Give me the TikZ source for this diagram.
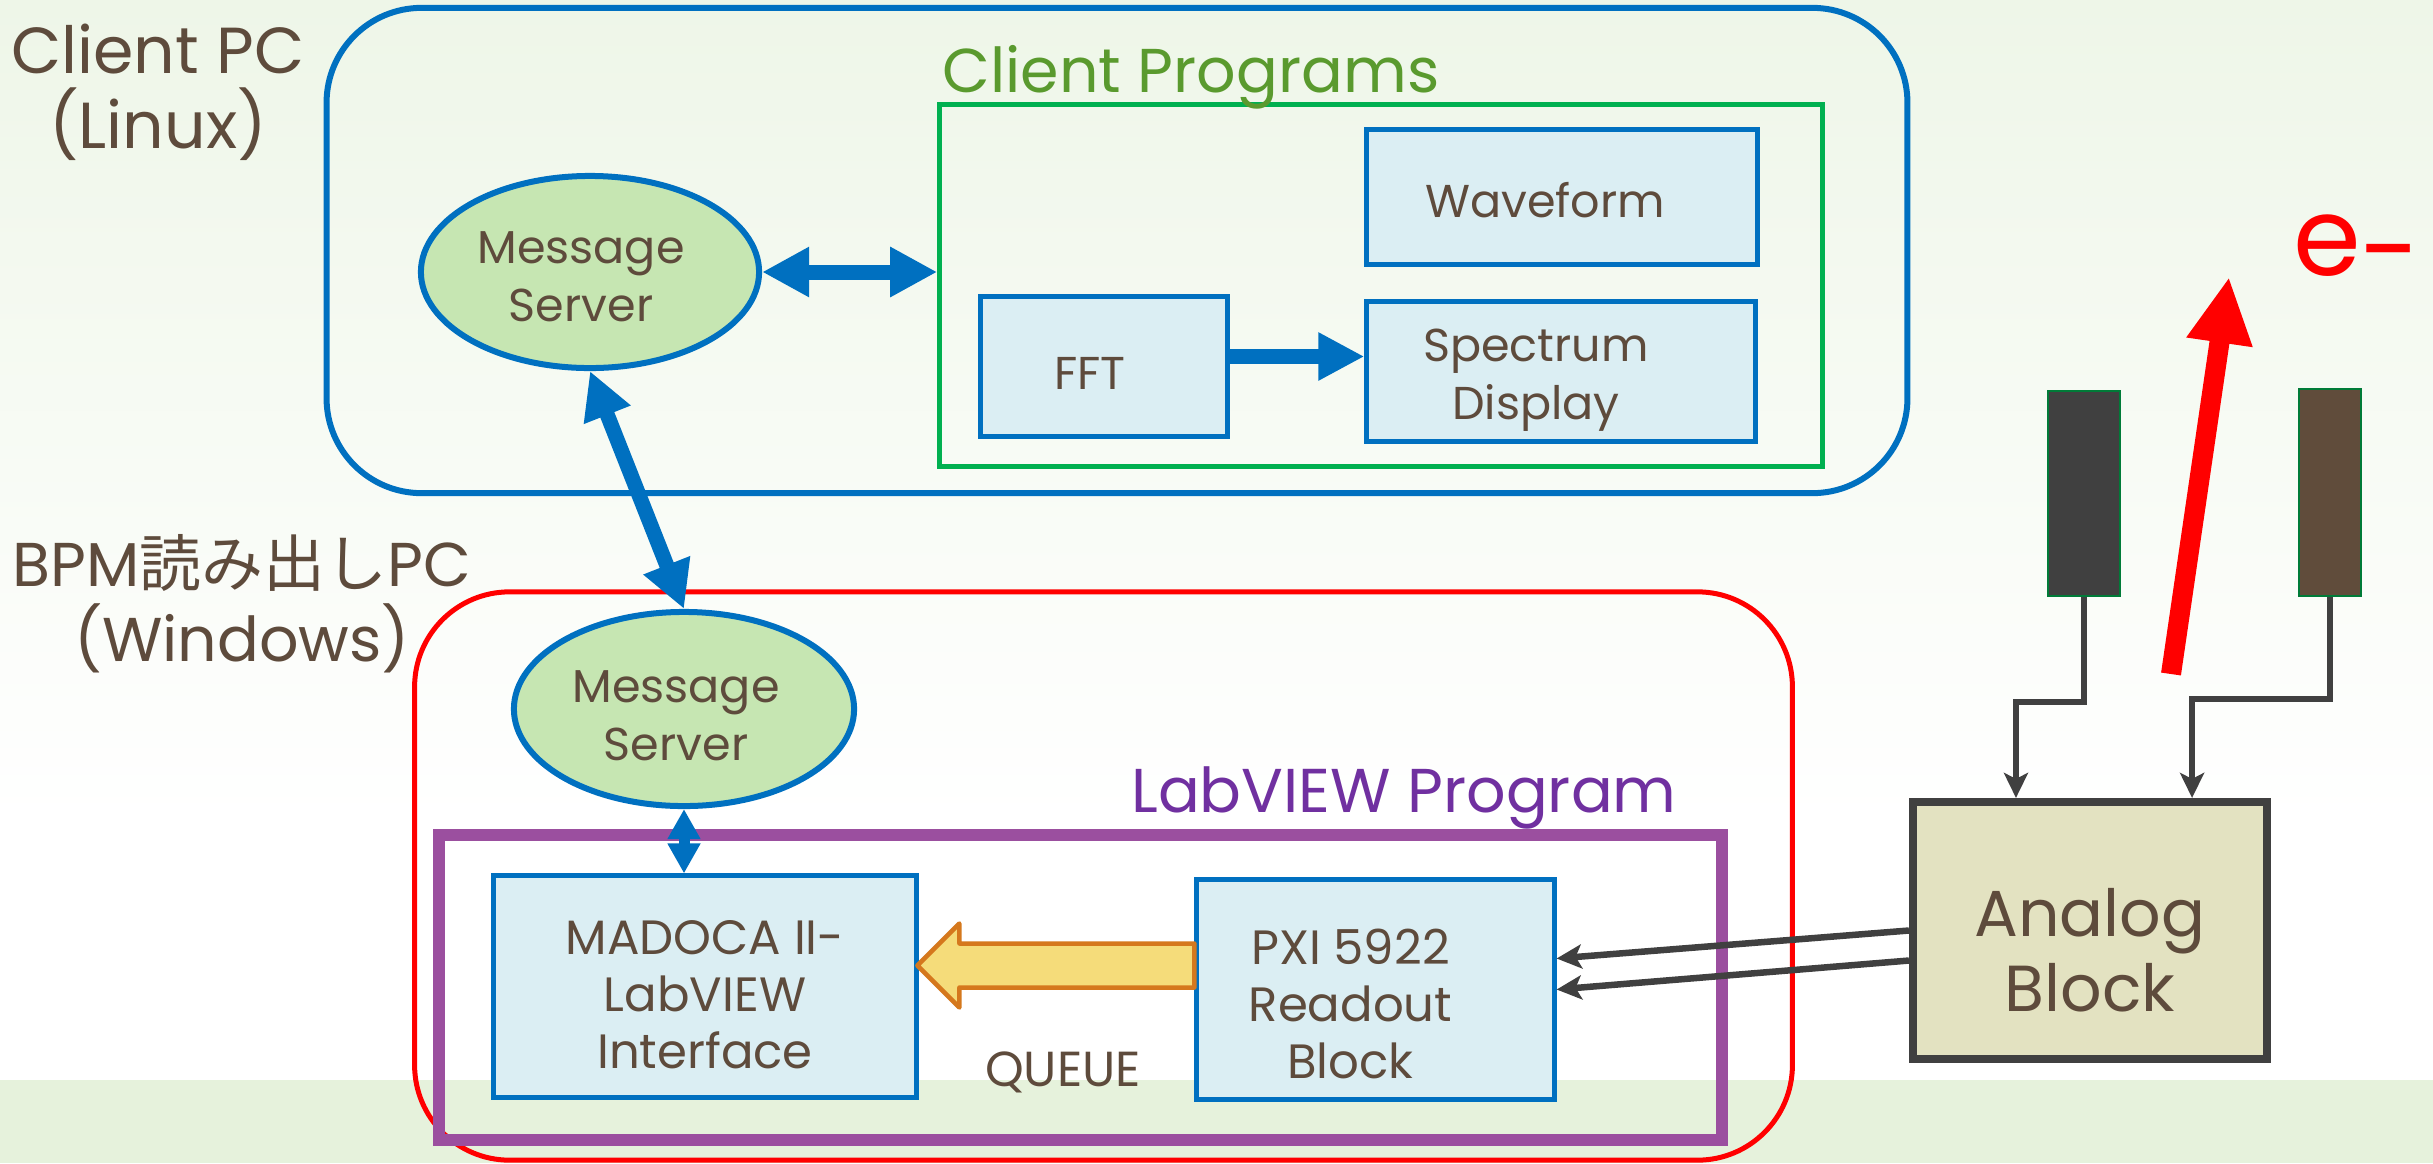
\documentclass[tikz,border=0pt]{standalone}
\usepackage{fontspec}
\setmainfont{Poppins}
\newfontfamily\jpfont{Noto Sans CJK JP}
\usepackage{xcolor}
\usetikzlibrary{arrows.meta,positioning,shapes.geometric}

\definecolor{bgtop}{HTML}{EEF6E8}
\definecolor{bgband}{HTML}{E6F2DC}
\definecolor{txtbrown}{HTML}{5E4B3C}
\definecolor{bpmblue}{HTML}{0070C0}
\definecolor{boxfill}{HTML}{DBEEF3}
\definecolor{srvfill}{HTML}{C6E6B2}
\definecolor{progline}{HTML}{00B050}
\definecolor{progtxt}{HTML}{5A9A2E}
\definecolor{lvline}{HTML}{9B4F9F}
\definecolor{lvtxt}{HTML}{7030A0}
\definecolor{anafill}{HTML}{E3E2C1}
\definecolor{darkline}{HTML}{404040}
\definecolor{pkbrown}{HTML}{604C3B}
\definecolor{qfill}{HTML}{F5DC7A}
\definecolor{qline}{HTML}{D5781D}

\newcommand\ftitle{\fontsize{18.5}{21.4}\selectfont}
\newcommand\fhead{\fontsize{17.6}{20}\selectfont}
\newcommand\fblock{\fontsize{13.7}{16.2}\selectfont}
\newcommand\fclient{\fontsize{13.1}{16.4}\selectfont}
\newcommand\fana{\fontsize{18.5}{21.3}\selectfont}
\newcommand\felec{\fontsize{31}{36}\selectfont}

\tikzset{%
	container/.style = {draw, rectangle, rounded corners=0.95cm, line width=0.06cm},
	title/.style     = {align=center, text=txtbrown, font=\ftitle},
	boxtext/.style   = {align=center, text=txtbrown, font=\fblock},
	prog/.style      = {draw=bpmblue, fill=boxfill, rectangle, line width=0.05cm},
	server/.style    = {draw=bpmblue, fill=srvfill, ellipse, line width=0.06cm},
	dlink/.style     = {draw=bpmblue, line width=0.15cm, {Triangle[length=0.47cm,width=0.47cm]}-{Triangle[length=0.47cm,width=0.47cm]}},
	slink/.style     = {draw=bpmblue, line width=0.15cm, -{Triangle[length=0.46cm,width=0.45cm]}},
	thinlink/.style  = {draw=bpmblue, line width=0.11cm, {Triangle[length=0.3cm,width=0.31cm]}-{Triangle[length=0.3cm,width=0.31cm]}},
	sig/.style       = {draw=darkline, line width=0.065cm, -{Stealth[length=0.25cm,width=0.24cm,inset=0.06cm]}},
	pickup/.style    = {draw=progline!70!black, line width=0.02cm, rectangle},
	queue/.style     = {draw=qline, fill=qfill, line width=0.045cm, line join=round},
	beam/.style      = {draw=red, line width=0.2cm, -{Triangle[length=0.66cm,width=0.62cm]}},
}

\begin{document}
\begin{tikzpicture}[x=0.01cm, y=-0.01cm]
	\useasboundingbox (0,0) rectangle (2433,1163);
	% background
	\shade[top color=bgtop, bottom color=white] (0,0) rectangle (2433,820);
	\fill[white] (0,820) rectangle (2433,1080);
	\fill[bgband] (0,1080) rectangle (2433,1163);
	
	% Client PC
	\node[container, draw=bpmblue, minimum width=15.8cm, minimum height=4.85cm] (cpc) at (1117,250.5) {};
	\node[title] (cpcT) at (158,92) {Client PC\\(Linux)};
	\node[draw=progline, line width=0.05cm, minimum width=8.82cm, minimum height=3.61cm] (progs) at (1381,285.5) {};
	\node[text=progtxt, font=\fhead] (progsT) at (1191,77) {Client Programs};
	\node[server, minimum width=3.38cm, minimum height=1.92cm,
		label={[boxtext, font=\fclient, shift={(-0.09cm,-0.05cm)}]center:{Message\\Server}}] (srvC) at (590,272) {};
	\node[prog, minimum width=3.9cm, minimum height=1.34cm,
		label={[boxtext, font=\fclient, shift={(-0.17cm,-0.035cm)}]center:Waveform}] (wave) at (1562,197) {};
	\node[prog, minimum width=2.46cm, minimum height=1.39cm,
		label={[boxtext, font=\fclient, shift={(-0.14cm,-0.07cm)}]center:FFT}] (fft) at (1104,366.5) {};
	\node[prog, minimum width=3.88cm, minimum height=1.39cm,
		label={[boxtext, font=\fclient, shift={(-0.25cm,-0.09cm)}]center:{Spectrum\\Display}}] (spec) at (1561,371.5) {};
	
	% BPM readout PC
	\node[container, draw=red, line width=0.05cm, minimum width=13.77cm, minimum height=5.68cm] (bpc) at (1103.5,876) {};
	\node[title, font=\fontsize{17.6}{21.4}\selectfont] (bpcT) at (242,604) {BPM{\jpfont 読み出し}PC\\(Windows)};
	\node[draw=lvline, line width=0.12cm, minimum width=12.83cm, minimum height=3.05cm] (lv) at (1080.5,987.5) {};
	\node[text=lvtxt, font=\fhead] (lvT) at (1404,798) {LabVIEW Program};
	\node[server, minimum width=3.4cm, minimum height=1.94cm,
		label={[boxtext, font=\fclient, shift={(-0.08cm,-0.07cm)}]center:{Message\\Server}}] (srvW) at (684,709) {};
	\node[prog, minimum width=4.22cm, minimum height=2.21cm,
		label={[boxtext, shift={(0cm,-0.08cm)}]center:{MADOCA II-\\LabVIEW\\Interface}}] (mad) at (705,986.5) {};
	\node[prog, minimum width=3.57cm, minimum height=2.19cm,
		label={[boxtext, shift={(-0.25cm,-0.14cm)}]center:{PXI 5922\\Readout\\Block}}] (pxi) at (1375.5,989.5) {};
	\node[text=txtbrown, font=\fontsize{14}{16}\selectfont] (qT) at (1063,1072) {QUEUE};
	
	% pickups and analog block
	\node[pickup, fill=darkline, minimum width=0.72cm, minimum height=2.05cm] (pkA) at (2084,493.5) {};
	\node[pickup, fill=pkbrown, minimum width=0.62cm, minimum height=2.07cm] (pkB) at (2330,492.5) {};
	\node[draw=darkline, fill=anafill, line width=0.08cm, minimum width=3.54cm, minimum height=2.57cm,
		label={[boxtext, font=\fana, shift={(0cm,-0.2cm)}]center:{Analog\\Block}}] (ana) at (2090,930.5) {};
	\node[text=red, font=\felec] (elec) at (2357,252) {e\raisebox{-0.13cm}{-}};
	\coordinate (bmS) at (2171,674);
	\coordinate (bmE) at (2229,277);
	
	% links
	\draw[dlink] (srvC.east) -- (srvC.east -| progs.west);
	\draw[dlink] (srvC.south) -- (srvW.north);
	\draw[slink] ([yshift=0.1cm]fft.east) -- ([yshift=0.1cm]fft.east -| spec.west);
	\draw[thinlink] (srvW.south) -- (srvW.south |- mad.north);
	\draw[queue] (pxi.west) ++(0,-46) -- ++(-235,0) -- ++(0,-20) -- ++(-42,42) -- ++(42,42) -- ++(0,-20) -- ++(235,0) -- cycle;
	\draw[sig] (pkA.south) -- ++(0,105) -| ([xshift=-0.74cm]ana.north);
	\draw[sig] (pkB.south) -- ++(0,102) -| ([xshift=1.02cm]ana.north);
	\draw[sig] (ana.west) -- ([yshift=0.31cm]pxi.east);
	\draw[sig] ([yshift=-0.3cm]ana.west) -- (pxi.east);
	\draw[beam] (bmS) -- (bmE);
\end{tikzpicture}
\end{document}
